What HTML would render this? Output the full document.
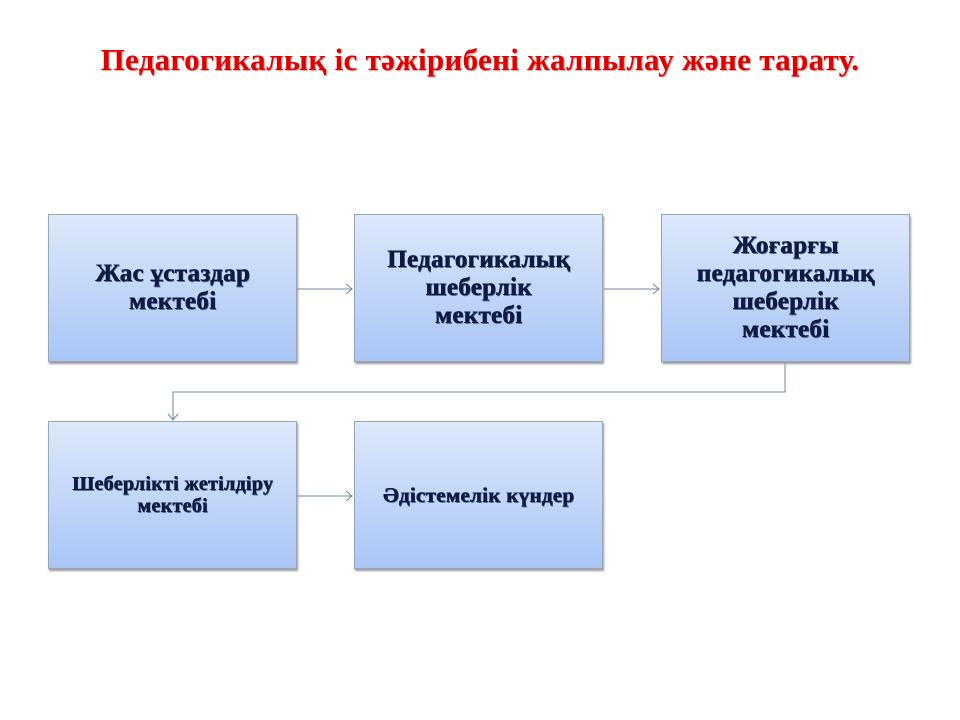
<!DOCTYPE html>
<html><head><meta charset="utf-8"><style>
html,body{margin:0;padding:0;width:960px;height:720px;background:#fff;overflow:hidden;position:relative}
.t{position:absolute;left:0;width:960px;top:42px;text-align:center;font:bold 31px "Liberation Serif",serif;color:#e00000;text-shadow:1px 1px 1px #c8a0a0;letter-spacing:0.3px}
.b{position:absolute;width:249px;height:148px;box-sizing:border-box;border:1px solid #9aa6b8;background:linear-gradient(#dde8fb,#a9c6f6);box-shadow:1px 2px 2px #999;display:flex;align-items:center;justify-content:center;text-align:center;font:bold 25px/28px "Liberation Serif",serif;color:#0e1a40;text-shadow:0.6px 0 0 #0e1a40,1px 1px 0 #6070a0;letter-spacing:0.3px}
</style></head><body>
<div class="t">Педагогикалық іс тәжірибені жалпылау және тарату.</div>
<svg width="960" height="720" style="position:absolute;left:0;top:0" fill="none" stroke="#6d87a8" stroke-width="1">
<path d="M297 289H352M346 284l6 5-6 5"/>
<path d="M604 289H659M653 284l6 5-6 5"/>
<path d="M785 362V392H173V420M168 414l5 6 5-6"/>
<path d="M297 496H352M346 491l6 5-6 5"/>
</svg>
<div class="b" style="left:48px;top:214px">Жас ұстаздар<br>мектебі</div>
<div class="b" style="left:354px;top:214px">Педагогикалық<br>шеберлік<br>мектебі</div>
<div class="b" style="left:661px;top:214px">Жоғарғы<br>педагогикалық<br>шеберлік<br>мектебі</div>
<div class="b" style="left:48px;top:421px;font-size:20px;line-height:22px">Шеберлікті жетілдіру<br>мектебі</div>
<div class="b" style="left:354px;top:421px;font-size:21px">Әдістемелік күндер</div>
</body></html>
